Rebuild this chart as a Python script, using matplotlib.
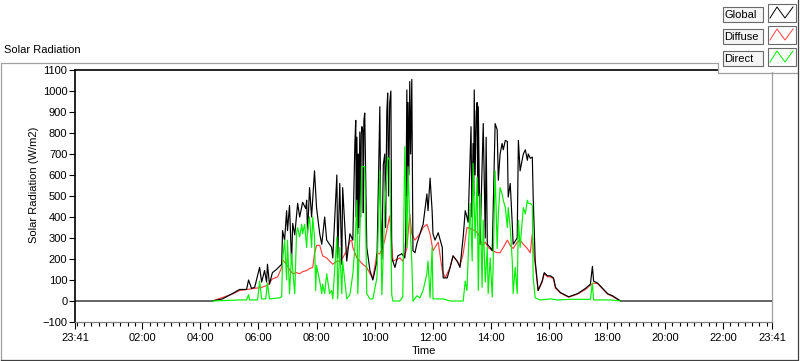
import matplotlib
matplotlib.use("Agg")
import matplotlib.pyplot as plt
from matplotlib.patches import Rectangle
from matplotlib.ticker import MultipleLocator, FixedLocator, NullFormatter

plt.rcParams["font.family"] = ["Liberation Sans", "DejaVu Sans"]
plt.rcParams["font.size"] = 8

# hours of day (23:41 previous day = -0.32), values in W/m2
global_hours = [-0.32, 4.41, 4.76, 5.10, 5.35, 5.59, 5.66, 5.76, 5.87, 6.04, 6.11, 6.21, 6.28, 6.31, 6.38,
                6.48, 6.62, 6.80, 6.83, 6.90, 6.97, 7.00, 7.07, 7.14, 7.18, 7.25, 7.35, 7.42, 7.52, 7.63,
                7.66, 7.69, 7.76, 7.83, 7.93, 8.00, 8.11, 8.18, 8.28, 8.35, 8.52, 8.56, 8.70, 8.73, 8.80,
                8.87, 8.90, 9.04, 9.15, 9.25, 9.32, 9.35, 9.37, 9.39, 9.42, 9.44, 9.46, 9.49, 9.52, 9.54,
                9.56, 9.59, 9.61, 9.63, 9.66, 9.73, 9.84, 9.94, 10.08, 10.18, 10.21, 10.25, 10.30, 10.35,
                10.38, 10.42, 10.45, 10.48, 10.52, 10.56, 10.59, 10.70, 10.80, 10.94, 11.04, 11.07, 11.11,
                11.13, 11.15, 11.18, 11.21, 11.24, 11.28, 11.32, 11.39, 11.46, 11.56, 11.63, 11.67, 11.80,
                11.84, 11.91, 11.98, 12.01, 12.08, 12.19, 12.33, 12.36, 12.50, 12.60, 12.70, 12.84, 12.94,
                13.05, 13.12, 13.18, 13.22, 13.32, 13.35, 13.39, 13.41, 13.43, 13.46, 13.50, 13.53, 13.55,
                13.57, 13.63, 13.74, 13.81, 13.84, 13.88, 13.98, 14.05, 14.15, 14.22, 14.26, 14.32, 14.39,
                14.43, 14.50, 14.57, 14.60, 14.67, 14.74, 14.77, 14.91, 14.95, 15.01, 15.12, 15.19, 15.26,
                15.29, 15.36, 15.43, 15.46, 15.53, 15.63, 15.77, 15.84, 15.95, 16.05, 16.16, 16.23, 16.40,
                16.68, 16.99, 17.26, 17.43, 17.50, 17.54, 17.68, 17.85, 18.02, 18.19, 18.36, 18.47, 23.68]
global_wm2 = [0, 0, 10, 35, 55, 55, 100, 60, 65, 160, 90, 145, 90, 175, 80,
              135, 150, 175, 335, 290, 430, 335, 455, 180, 370, 315, 465, 400, 470, 440,
              480, 320, 540, 400, 620, 445, 320, 270, 400, 290, 255, 205, 600, 205, 560,
              175, 540, 190, 320, 290, 750, 860, 400, 780, 320, 700, 350, 805, 400, 790,
              830, 810, 420, 860, 895, 255, 145, 100, 190, 925, 400, 200, 650, 700,
              350, 900, 990, 500, 945, 1000, 205, 160, 215, 225, 205, 300, 1005,
              500, 945, 600, 1045, 700, 1055, 240, 230, 275, 320, 350, 365, 510,
              430, 585, 430, 320, 290, 325, 255, 110, 110, 160, 215, 190, 160,
              305, 430, 400, 375, 830, 400, 750, 500, 1005, 600, 900, 945, 500,
              925, 270, 845, 300, 780, 270, 255, 240, 845, 815, 575, 700, 750,
              720, 765, 760, 495, 560, 365, 270, 300, 765, 620, 700, 720, 670,
              700, 680, 685, 495, 190, 50, 95, 135, 120, 120, 110, 65, 40,
              20, 35, 60, 80, 165, 95, 85, 60, 35, 25, 10, 0, 0]

diffuse_hours = [4.41, 5.10, 5.35, 5.62, 5.87, 6.11, 6.31, 6.48, 6.66, 6.80, 6.83, 6.97, 7.07, 7.18, 7.31,
                 7.42, 7.52, 7.66, 7.76, 7.87, 7.93, 8.00, 8.11, 8.21, 8.35, 8.45, 8.56, 8.70, 8.80, 8.90,
                 9.04, 9.15, 9.21, 9.25, 9.39, 9.49, 9.59, 9.73, 9.84, 9.94, 10.08, 10.18, 10.28, 10.35,
                 10.52, 10.63, 10.87, 10.97, 11.11, 11.21, 11.28, 11.39, 11.56, 11.67, 11.80, 11.91, 12.01,
                 12.19, 12.33, 12.43, 12.60, 12.70, 12.84, 12.94, 13.05, 13.18, 13.29, 13.46, 13.57, 13.70,
                 13.81, 13.91, 14.05, 14.22, 14.32, 14.43, 14.57, 14.67, 14.77, 14.91, 15.01, 15.12, 15.26,
                 15.36, 15.43, 15.46, 15.53, 15.63, 15.77, 15.84, 15.95, 16.05, 16.16, 16.23, 16.40, 16.68,
                 16.99, 17.26, 17.43, 17.54, 17.68, 17.85, 18.02, 18.19, 18.36, 18.47]
diffuse_wm2 = [0, 33, 50, 55, 60, 65, 75, 105, 115, 160, 195, 175, 150, 130, 135,
               130, 140, 145, 155, 160, 225, 265, 265, 215, 205, 190, 175, 190, 190, 205,
               240, 285, 290, 255, 205, 190, 175, 160, 130, 110, 225, 225, 255, 290,
               405, 190, 205, 190, 250, 415, 320, 290, 320, 350, 365, 320, 240,
               280, 145, 110, 160, 215, 190, 170, 225, 350, 345, 335, 320, 265,
               280, 255, 240, 230, 230, 255, 290, 265, 250, 280, 290, 270, 250,
               230, 320, 250, 175, 50, 90, 130, 115, 115, 105, 60, 38, 18,
               33, 55, 75, 85, 83, 58, 33, 22, 8, 0]

direct_hours = [4.41, 5.35, 5.59, 5.66, 5.69, 5.97, 6.04, 6.11, 6.25, 6.31, 6.38, 6.73, 6.80, 6.83, 6.90,
                6.97, 7.00, 7.07, 7.14, 7.18, 7.25, 7.31, 7.35, 7.42, 7.49, 7.52, 7.59, 7.66, 7.69, 7.76,
                7.83, 7.87, 7.93, 7.97, 8.00, 8.11, 8.18, 8.21, 8.28, 8.35, 8.45, 8.52, 8.56, 8.70, 8.73,
                8.80, 8.87, 8.90, 9.04, 9.15, 9.25, 9.32, 9.39, 9.42, 9.49, 9.56, 9.59, 9.66, 9.73, 9.84,
                9.94, 10.08, 10.18, 10.25, 10.35, 10.45, 10.52, 10.59, 10.63, 10.87, 10.97, 11.04, 11.11,
                11.15, 11.21, 11.28, 11.32, 11.46, 11.56, 11.67, 11.80, 11.84, 11.91, 11.98, 12.01, 12.15,
                12.36, 12.60, 12.84, 13.05, 13.12, 13.18, 13.29, 13.36, 13.39, 13.46, 13.53, 13.57, 13.63,
                13.70, 13.74, 13.81, 13.88, 13.91, 13.98, 14.05, 14.08, 14.15, 14.22, 14.26, 14.32, 14.39,
                14.43, 14.50, 14.57, 14.60, 14.67, 14.74, 14.77, 14.84, 14.91, 14.95, 15.01, 15.12, 15.19,
                15.26, 15.29, 15.36, 15.43, 15.46, 15.53, 15.70, 16.05, 16.30, 16.75, 17.43, 17.50, 17.54,
                18.12, 18.47]
direct_wm2 = [0, 5, 5, 30, 5, 5, 95, 10, 10, 85, 10, 15, 20, 190, 290,
              100, 290, 35, 225, 150, 35, 320, 350, 305, 365, 320, 365, 255, 335, 400,
              255, 400, 305, 50, 170, 95, 35, 80, 35, 130, 35, 50, 10, 305, 10,
              255, 35, 190, 10, 30, 130, 255, 480, 35, 320, 640, 640, 640, 35, 10,
              10, 110, 620, 30, 445, 685, 670, 30, 0, 0, 20, 735, 255,
              640, 385, 190, 0, 25, 15, 50, 130, 190, 15, 255, 10, 10,
              10, 0, 0, 0, 95, 50, 465, 190, 655, 300, 590, 50, 510,
              65, 385, 90, 255, 35, 205, 20, 160, 620, 250, 415, 540, 510,
              480, 445, 350, 445, 350, 190, 35, 160, 35, 385, 255, 445, 415,
              480, 465, 465, 455, 110, 15, 5, 10, 5, 8, 8, 85, 5,
              5, 0]

series = [("Global", "black"), ("Diffuse", "#ff4040"), ("Direct", "#00f000")]

tick_hours = [-0.3167, 2, 4, 6, 8, 10, 12, 14, 16, 18, 20, 22, 23.6833]
tick_labels = ["23:41", "02:00", "04:00", "06:00", "08:00", "10:00", "12:00",
               "14:00", "16:00", "18:00", "20:00", "22:00", "23:41"]
y_ticks = list(range(-100, 1101, 100))


def main():
    fig = plt.figure(figsize=(8, 3.61), dpi=100)
    W, H = 800, 361
    ax = fig.add_axes([75 / W, 1 - 322 / H, 697 / W, 252 / H])

    ax.plot(diffuse_hours, diffuse_wm2, color=series[1][1], lw=0.85, zorder=2)
    ax.plot(global_hours, global_wm2, color=series[0][1], lw=0.85, zorder=3)
    ax.plot(direct_hours, direct_wm2, color=series[2][1], lw=0.85, zorder=4)

    ax.set_xlim(tick_hours[0], tick_hours[-1])
    ax.set_ylim(-100, 1100)
    ax.xaxis.set_major_locator(FixedLocator(tick_hours))
    ax.set_xticklabels(tick_labels)
    ax.xaxis.set_minor_locator(MultipleLocator(0.25))
    ax.xaxis.set_minor_formatter(NullFormatter())
    ax.set_yticks(y_ticks)
    ax.tick_params(axis="x", which="major", length=5, width=0.8, pad=3, labelsize=8)
    ax.tick_params(axis="x", which="minor", length=3, width=0.8)
    ax.tick_params(axis="y", which="major", length=4.5, width=0.8, pad=1, labelsize=8)

    for side in ["left", "top"]:
        ax.spines[side].set_color("black")
        ax.spines[side].set_linewidth(1.2)
    ax.spines["right"].set_color("#a0a0a0")
    ax.spines["bottom"].set_color("#808080")
    ax.spines["right"].set_linewidth(0.9)
    ax.spines["bottom"].set_linewidth(0.9)

    ax.set_xlabel("Time", fontsize=8)
    ax.xaxis.set_label_coords(0.5, -0.097)
    ax.set_ylabel("Solar Radiation (W/m2)", fontsize=8)
    ax.yaxis.set_label_coords(-0.052, 0.545)

    # overlay in pixel coordinates for the frame, caption and legend
    ov = fig.add_axes([0, 0, 1, 1])
    ov.set_xlim(0, W)
    ov.set_ylim(H, 0)
    ov.axis("off")
    ov.set_zorder(5)

    ov.text(4, 50, "Solar Radiation", ha="left", va="center", fontsize=8)
    ov.plot([0.5, 0.5, 717.5, 717.5, 797.5], [360, 62.5, 62.5, 72.5, 72.5], color="#a0a0a0", lw=0.9)
    ov.plot([0.5, 797.5, 797.5], [359.5, 359.5, 0], color="#404040", lw=0.9)
    ov.add_patch(Rectangle((718, 0), 79, 72, facecolor="white", edgecolor="none"))

    rows = [6, 28, 50]
    for (name, color), top in zip(series, rows):
        ov.add_patch(Rectangle((722.5, top + 0.5), 40, 15, facecolor="#f5f5f5",
                               edgecolor="#6a6a6a", lw=0.8))
        ov.text(724.5, top + 8.5, name, ha="left", va="center", fontsize=8)
        ov.add_patch(Rectangle((767.5, top - 2.5), 28, 18, facecolor="white",
                               edgecolor="#6a6a6a", lw=0.8))
        ov.plot([770, 777, 785, 793], [top + 12, top + 1, top + 12, top + 1], color=color, lw=0.7)

    fig.savefig("out.png", dpi=100)


if __name__ == "__main__":
    main()
